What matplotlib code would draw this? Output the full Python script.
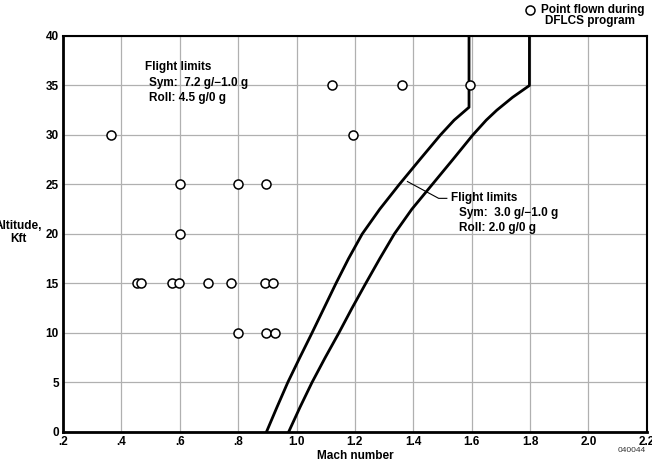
import matplotlib
matplotlib.use('Agg')
import matplotlib.pyplot as plt

# flight test points (Mach, altitude kft)
mach_pts = [0.365, 1.12, 1.363, 1.595, 1.195,
            0.60, 0.80, 0.897,
            0.60,
            0.455, 0.467, 0.573, 0.598, 0.697, 0.777, 0.891, 0.918,
            0.80, 0.895, 0.927]
alt_pts = [30, 35, 35, 35, 30,
           25, 25, 25,
           20,
           15, 15, 15, 15, 15, 15, 15, 15,
           10, 10, 10]

# flight limit boundaries
limit_a_mach = [0.897, 0.933, 0.970, 1.011, 1.053, 1.094, 1.135, 1.178, 1.225, 1.285,
                1.352, 1.422, 1.493, 1.54, 1.591, 1.591]
limit_a_alt = [0, 2.5, 5, 7.5, 10, 12.5, 15, 17.5, 20, 22.5,
               25, 27.5, 30, 31.5, 32.8, 40]
limit_b_mach = [0.973, 1.012, 1.053, 1.098, 1.145, 1.19, 1.237, 1.285, 1.335, 1.395,
                1.465, 1.535, 1.604, 1.65, 1.686, 1.74, 1.798, 1.798]
limit_b_alt = [0, 2.5, 5, 7.5, 10, 12.5, 15, 17.5, 20, 22.5,
               25, 27.5, 30, 31.5, 32.5, 33.8, 35, 40]

x_ticks = [0.2, 0.4, 0.6, 0.8, 1.0, 1.2, 1.4, 1.6, 1.8, 2.0, 2.2]
x_labels = ['.2', '.4', '.6', '.8', '1.0', '1.2', '1.4', '1.6', '1.8', '2.0', '2.2']
y_ticks = [0, 5, 10, 15, 20, 25, 30, 35, 40]

plt.rcParams['font.family'] = ['Liberation Sans', 'DejaVu Sans']
plt.rcParams['font.weight'] = 'bold'
fs = 8.5

fig = plt.figure(figsize=(6.52, 4.65), dpi=100)
ax = fig.add_axes([0.0966, 0.071, 0.8954, 0.8516])

ax.plot(limit_a_mach, limit_a_alt, color='black', lw=2.0, zorder=3,
        solid_joinstyle='round')
ax.plot(limit_b_mach, limit_b_alt, color='black', lw=2.0, zorder=3,
        solid_joinstyle='round')
ax.plot(mach_pts, alt_pts, 'o', ms=6.5, mfc='white', mec='black', mew=1.1,
        zorder=4, clip_on=False)

ax.set_xlim(0.2, 2.2)
ax.set_ylim(0, 40)
ax.set_xticks(x_ticks)
ax.set_xticklabels(x_labels)
ax.set_yticks(y_ticks)
ax.tick_params(length=0, labelsize=fs, pad=3)
for lab in ax.get_xticklabels() + ax.get_yticklabels():
    lab.set_fontweight('bold')
ax.grid(True, color='#b0b0b0', lw=0.9)
ax.set_axisbelow(True)
for side in ['left', 'bottom']:
    ax.spines[side].set_linewidth(2.0)
for side in ['top', 'right']:
    ax.spines[side].set_linewidth(1.5)

ax.set_xlabel('Mach number', fontsize=fs, fontweight='bold', labelpad=1)
fig.text(0.028, 0.5, 'Altitude,\nKft', ha='center', va='center',
         fontsize=fs, fontweight='bold', linespacing=1.1)

# annotations
ax.text(0.48, 36.9, 'Flight limits', fontsize=fs, fontweight='bold', va='center')
ax.text(0.495, 35.3, 'Sym:  7.2 g/\u22121.0 g', fontsize=fs, fontweight='bold', va='center')
ax.text(0.495, 33.7, 'Roll: 4.5 g/0 g', fontsize=fs, fontweight='bold', va='center')

ax.plot([1.38, 1.487, 1.515], [25.3, 23.6, 23.6], color='black', lw=0.8, zorder=3)
ax.text(1.53, 23.6, 'Flight limits', fontsize=fs, fontweight='bold', va='center')
ax.text(1.555, 22.1, 'Sym:  3.0 g/\u22121.0 g', fontsize=fs, fontweight='bold', va='center')
ax.text(1.555, 20.6, 'Roll: 2.0 g/0 g', fontsize=fs, fontweight='bold', va='center')

# legend
fig.lines.append(plt.Line2D([0.813], [0.978], transform=fig.transFigure, marker='o',
                            ms=6.5, mfc='white', mec='black', mew=1.1, ls='none'))
fig.text(0.83, 0.978, 'Point flown during', fontsize=fs, fontweight='bold', va='center')
fig.text(0.905, 0.954, 'DFLCS program', fontsize=fs, fontweight='bold', ha='center', va='center')
fig.text(0.99, 0.032, '040044', fontsize=6, fontweight='normal', ha='right', va='center',
         color='#333333')

fig.savefig('out.png', dpi=100)
